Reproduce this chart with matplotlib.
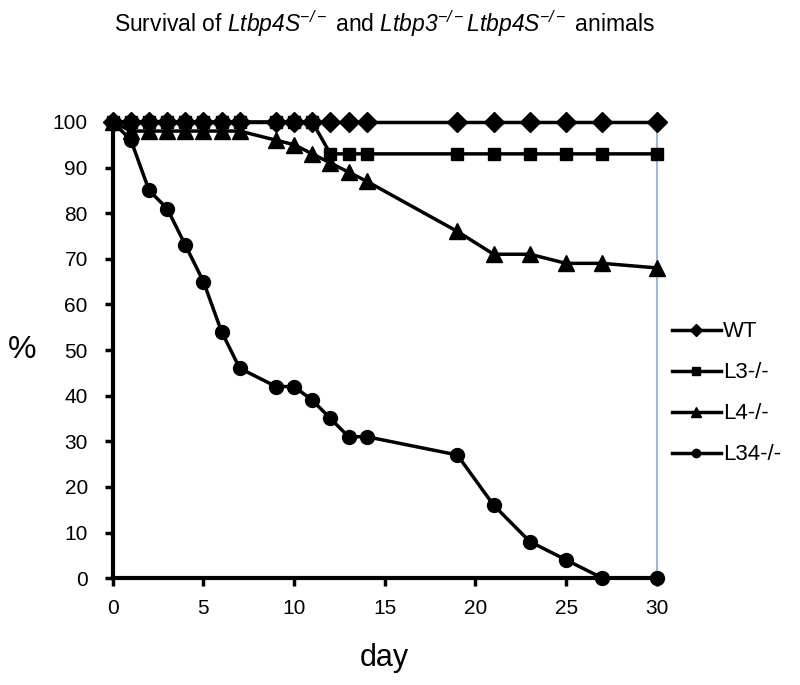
import matplotlib

matplotlib.use("Agg")
import matplotlib.pyplot as plt

plt.rcParams["font.family"] = ["Liberation Sans", "DejaVu Sans"]
plt.rcParams["mathtext.fontset"] = "custom"
plt.rcParams["mathtext.rm"] = "Liberation Sans:italic"
plt.rcParams["mathtext.it"] = "Liberation Sans:italic"

days = [0, 1, 2, 3, 4, 5, 6, 7, 9, 10, 11, 12, 13, 14, 19, 21, 23, 25, 27, 30]
wt = [100] * 20
l3 = [100, 100, 100, 100, 100, 100, 100, 100, 100, 100, 100,
      93, 93, 93, 93, 93, 93, 93, 93, 93]
l4 = [100, 98, 98, 98, 98, 98, 98, 98, 96, 95, 93,
      91, 89, 87, 76, 71, 71, 69, 69, 68]
l34 = [100, 96, 85, 81, 73, 65, 54, 46, 42, 42, 39,
       35, 31, 31, 27, 16, 8, 4, 0, 0]

series = [("WT", wt, "D", 10), ("L3-/-", l3, "s", 9),
          ("L4-/-", l4, "^", 11), ("L34-/-", l34, "o", 10)]

fig = plt.figure(figsize=(8, 6.85), dpi=100)
ax = fig.add_axes([0.141, 0.156, 0.68, 0.666])

for name, vals, mk, ms in series:
    ax.plot(days, vals, color="black", lw=2.5, marker=mk, ms=ms, label=name,
            clip_on=False, zorder=3)

ax.set_xlim(0, 30)
ax.set_ylim(0, 100)
ax.set_xticks(range(0, 31, 5))
ax.set_yticks(range(0, 101, 10))
ax.tick_params(direction="out", length=6, width=2.5, labelsize=15)
ax.tick_params(axis="y", pad=12)
ax.tick_params(axis="x", pad=9)

for s in ("left", "bottom"):
    ax.spines[s].set_linewidth(3)
for s in ("top", "right"):
    ax.spines[s].set_color("#9bb8d6")
    ax.spines[s].set_linewidth(1.5)

ax.set_xlabel("day", fontsize=22, labelpad=18)
ax.set_ylabel("%", fontsize=23, rotation=0, labelpad=22, va="center")

fig.text(0.481, 0.965,
         r"Survival of $\mathrm{Ltbp4S}^{-/-}$ and "
         r"$\mathrm{Ltbp3}^{-/-}\mathrm{Ltbp4S}^{-/-}$ animals",
         ha="center", va="center", fontsize=16.5)

ax.legend(loc="upper left", bbox_to_anchor=(0.815, 0.56),
          bbox_transform=fig.transFigure, frameon=False, fontsize=16,
          handlelength=2.2, handletextpad=0.1, labelspacing=0.9, markerscale=0.6)

fig.savefig("out.png", dpi=100)
